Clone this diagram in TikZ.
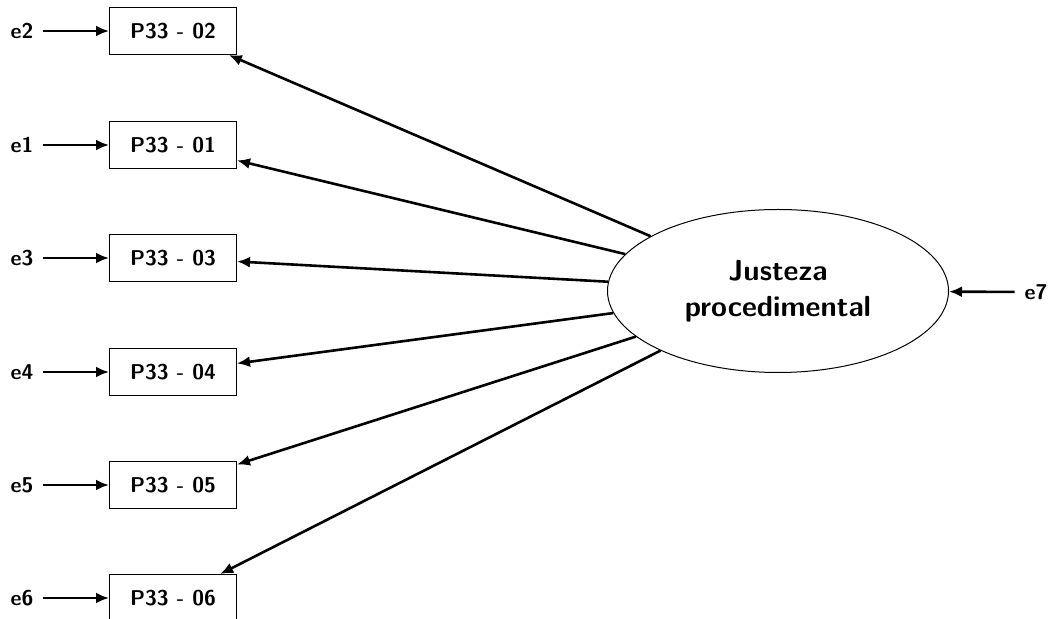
\documentclass[tikz,border=0pt]{standalone}
\usepackage{amsmath}
\usetikzlibrary{shapes.geometric,arrows.meta}

\begin{document}
\begin{tikzpicture}[x=0.5pt,y=-0.5pt,
	font=\sffamily\bfseries\fontsize{10.7}{12}\selectfont,
	item/.style={shape=rectangle,draw=black,line width=0.5pt,minimum width=63.5pt,minimum height=23.5pt,inner sep=0pt},
	err/.style={inner sep=2pt,outer sep=3pt},
	latent/.style={shape=ellipse,draw=black,line width=0.5pt,minimum width=170.5pt,minimum height=81.5pt,align=center,inner sep=0pt,font=\sffamily\bfseries\fontsize{14.5}{18}\selectfont},
	path/.style={-{Latex[length=6.5pt,width=5.5pt]},line width=1.3pt}]
	\useasboundingbox (0,0) rectangle (1056,619);

	\node[item] (p2) at (173, 31)     {P33 - 02};
	\node[item] (p1) at (173, 145)    {P33 - 01};
	\node[item] (p3) at (173, 258)    {P33 - 03};
	\node[item] (p4) at (173, 372)    {P33 - 04};
	\node[item] (p5) at (173, 485)    {P33 - 05};
	\node[item] (p6) at (173, 598)    {P33 - 06};

	\node[err] (e2) at (22, 31)      {e2};
	\node[err] (e1) at (22, 145)     {e1};
	\node[err] (e3) at (22, 258)     {e3};
	\node[err] (e4) at (22, 372)     {e4};
	\node[err] (e5) at (22, 485)     {e5};
	\node[err] (e6) at (22, 598)     {e6};

	\node[latent] (jp) at (778, 291) {Justeza\\procedimental};
	\node[err] (e7) at (1036, 292)   {e7};

	\path[path] (e2) edge (p2);
	\path[path] (e1) edge (p1);
	\path[path] (e3) edge (p3);
	\path[path] (e4) edge (p4);
	\path[path] (e5) edge (p5);
	\path[path] (e6) edge (p6);

	\path[path] (jp) edge (p2);
	\path[path] (jp) edge (p1);
	\path[path] (jp) edge (p3);
	\path[path] (jp) edge (p4);
	\path[path] (jp) edge (p5);
	\path[path] (jp) edge (p6);
	\path[path] (e7) edge (jp);

\end{tikzpicture}
\end{document}
